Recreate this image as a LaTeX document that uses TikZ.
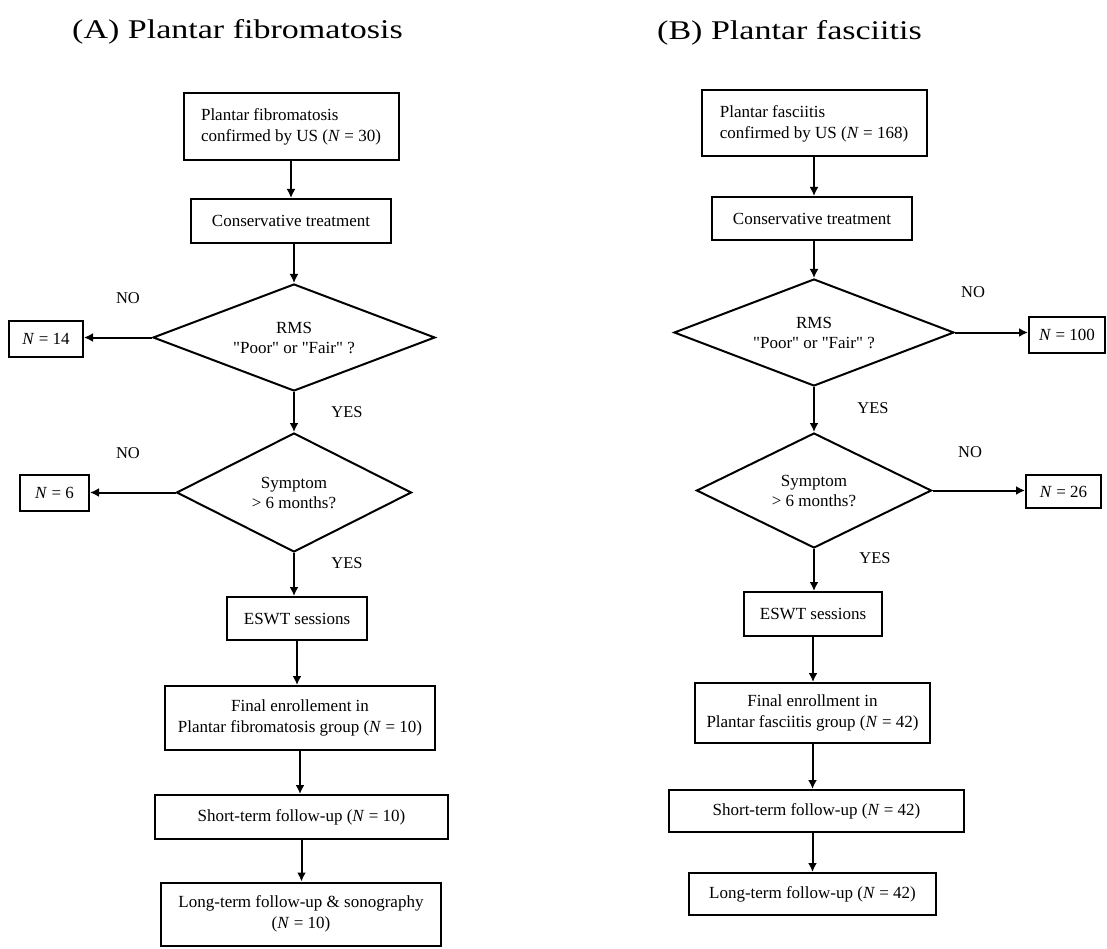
\documentclass[tikz,border=0pt]{standalone}
\usepackage{fontspec}
\setmainfont{Liberation Serif}
\usetikzlibrary{shapes.geometric,arrows.meta}
\begin{document}
\begin{tikzpicture}[x=1pt,y=-1pt,
  box/.style={draw, line width=2pt, inner sep=0pt, align=center, font=\fontsize{17}{21}\selectfont},
  dia/.style={draw, diamond, line width=2pt, inner sep=0pt, align=center, font=\fontsize{17}{20}\selectfont},
  lbl/.style={font=\fontsize{16.5}{20}\selectfont, inner sep=0pt},
  arr/.style={line width=2pt, -{Latex[length=9pt,width=9pt]}},
  ttl/.style={font=\fontsize{27}{30}\selectfont, anchor=base west, inner sep=0pt}]
\useasboundingbox (0,0) rectangle (1107,949);

% Titles
\node[ttl] (tA) at (72,39) {\scalebox{1.26}[1]{(A) Plantar fibromatosis}};
\node[ttl] (tB) at (657,40) {\scalebox{1.26}[1]{(B) Plantar fasciitis}};

% Column A
\node[box, minimum width=215, minimum height=67, align=left] (a1) at (291,126.5) {Plantar fibromatosis\\confirmed by US (\textit{N} = 30)};
\node[box, minimum width=200, minimum height=44] (a2) at (291,221) {Conservative treatment};
\node[dia, minimum width=282, minimum height=107, aspect=2.6] (a3) at (294,337.5) {RMS\\\textquotedbl Poor\textquotedbl{} or \textquotedbl Fair\textquotedbl{} ?};
\node[box, minimum width=74, minimum height=36] (a4) at (46,339) {\textit{N} = 14};
\node[dia, minimum width=235, minimum height=119, aspect=2] (a5) at (294,492.5) {Symptom\\> 6 months?};
\node[box, minimum width=69, minimum height=36] (a6) at (54.5,493) {\textit{N} = 6};
\node[box, minimum width=140, minimum height=43] (a7) at (297,618.5) {ESWT sessions};
\node[box, minimum width=270, minimum height=64] (a8) at (300,718) {Final enrollement in\\Plantar fibromatosis group (\textit{N} = 10)};
\node[box, minimum width=293, minimum height=44] (a9) at (301.5,817) {Short-term follow-up (\textit{N} = 10)};
\node[box, minimum width=280, minimum height=63] (a10) at (301,914) {Long-term follow-up \& sonography\\(\textit{N} = 10)};

\node[lbl] (aNo1) at (128,298) {NO};
\node[lbl] (aYes1) at (347,412) {YES};
\node[lbl] (aNo2) at (128,453) {NO};
\node[lbl] (aYes2) at (347,563) {YES};

\draw[arr] (a1.south) -- (a2.north);
\draw[arr] (a3.north |- a2.south) -- (a3.north);
\draw[arr] (a3.west) -- (a3.west -| a4.east);
\draw[arr] (a3.south) -- (a5.north);
\draw[arr] (a5.west) -- (a5.west -| a6.east);
\draw[arr] (a5.south) -- (a5.south |- a7.north);
\draw[arr] (a7.south) -- (a7.south |- a8.north);
\draw[arr] (a8.south) -- (a8.south |- a9.north);
\draw[arr] (a9.south) -- (a9.south |- a10.north);

% Column B
\node[box, minimum width=225, minimum height=66, align=left] (b1) at (814,123.5) {Plantar fasciitis\\confirmed by US (\textit{N} = 168)};
\node[box, minimum width=200, minimum height=43] (b2) at (812,218.5) {Conservative treatment};
\node[dia, minimum width=280, minimum height=107, aspect=2.6] (b3) at (814,332.5) {RMS\\\textquotedbl Poor\textquotedbl{} or \textquotedbl Fair\textquotedbl{} ?};
\node[box, minimum width=76, minimum height=36] (b4) at (1067,335) {\textit{N} = 100};
\node[dia, minimum width=235, minimum height=115, aspect=2] (b5) at (814,490.5) {Symptom\\> 6 months?};
\node[box, minimum width=75, minimum height=33] (b6) at (1063.5,491.5) {\textit{N} = 26};
\node[box, minimum width=138, minimum height=44] (b7) at (813,614) {ESWT sessions};
\node[box, minimum width=235, minimum height=60] (b8) at (812.5,713) {Final enrollment in\\Plantar fasciitis group (\textit{N} = 42)};
\node[box, minimum width=295, minimum height=42] (b9) at (816.5,811) {Short-term follow-up (\textit{N} = 42)};
\node[box, minimum width=247, minimum height=42] (b10) at (812.5,894) {Long-term follow-up (\textit{N} = 42)};

\node[lbl] (bNo1) at (973,292) {NO};
\node[lbl] (bYes1) at (873,408) {YES};
\node[lbl] (bNo2) at (970,452) {NO};
\node[lbl] (bYes2) at (875,558) {YES};

\draw[arr] (b1.south -| b3.north) -- (b3.north |- b2.north);
\draw[arr] (b3.north |- b2.south) -- (b3.north);
\draw[arr] (b3.east) -- (b3.east -| b4.west);
\draw[arr] (b3.south) -- (b5.north);
\draw[arr] (b5.east) -- (b5.east -| b6.west);
\draw[arr] (b5.south) -- (b5.south |- b7.north);
\draw[arr] (b7.south) -- (b7.south |- b8.north);
\draw[arr] (b8.south) -- (b8.south |- b9.north);
\draw[arr] (b9.south -| b8.south) -- (b8.south |- b10.north);
\end{tikzpicture}
\end{document}
